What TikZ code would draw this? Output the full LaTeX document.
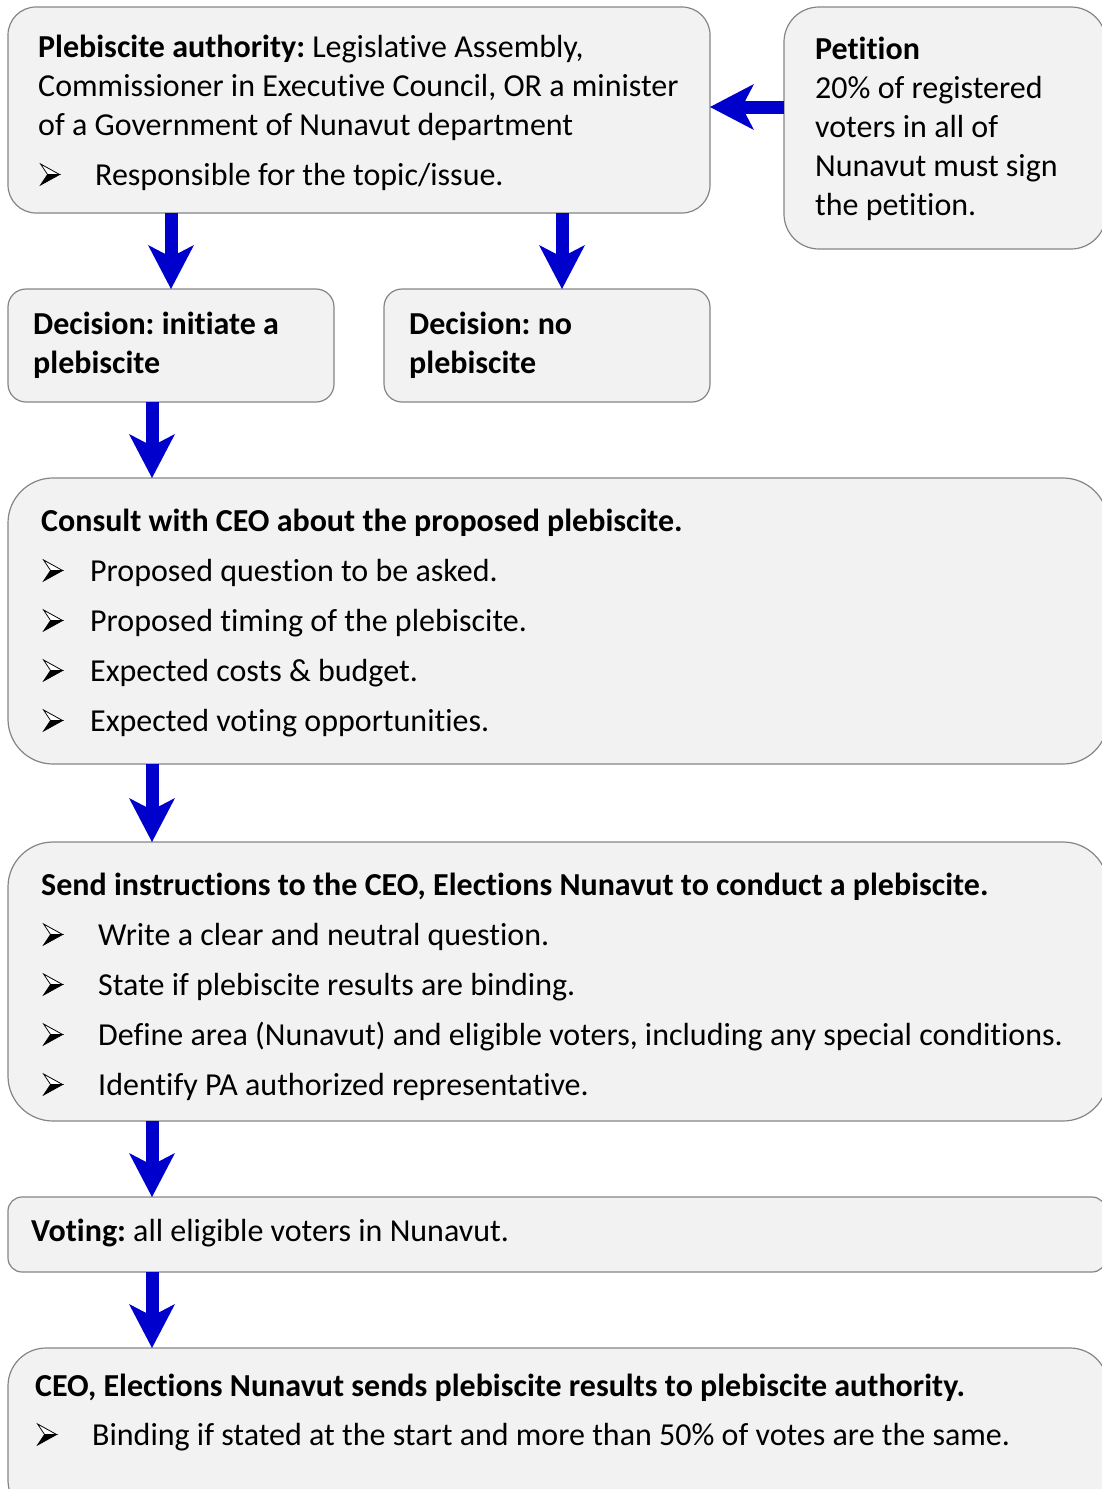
\documentclass[tikz,border=0pt]{standalone}
\usepackage{fontspec}
\setmainfont[Ligatures=NoCommon]{Carlito}
\frenchspacing
\usetikzlibrary{arrows.meta,positioning}
\definecolor{boxfill}{HTML}{F2F2F2}
\definecolor{boxline}{HTML}{858585}
\definecolor{flowblue}{HTML}{0000CC}
% arrowhead bullet, #1 = room from bullet to text
\newcommand{\bul}[1]{\makebox[#1][l]{\hspace{2pt}\tikz[baseline=0pt,x=1pt,y=1pt,line width=0.8pt,line join=miter]{\filldraw[fill=white,draw=black] (0,21)--(19,10.5)--(7,10.5)--cycle; \filldraw[black] (7,10.5)--(19,10.5)--(0,0)--cycle;}}}
\tikzset{
  box/.style={rounded corners=#1,draw=boxline,fill=boxfill,line width=1.2pt,inner sep=0pt,outer sep=0pt,anchor=north west},
  box/.default=20pt,
  body/.style={font=\fontsize{32}{39}\selectfont,align=left,inner sep=0pt,anchor=base west},
  flow/.style={-{Stealth[length=44pt,width=46pt,inset=12pt,line width=0pt]},draw=flowblue,line width=13pt}
}
\begin{document}
\begin{tikzpicture}[x=1pt,y=-1pt]
\useasboundingbox (0,0) rectangle (1102,1489);
\clip (0,0) rectangle (1102,1489);
% boxes
\node[box=28pt,minimum width=702pt,minimum height=206pt] (auth) at (8,7) {};
\node[box=35pt,minimum width=322pt,minimum height=242pt] (pet) at (784,7) {};
\node[box=18pt,minimum width=326pt,minimum height=113pt] (init) at (8,289) {};
\node[box=18pt,minimum width=326pt,minimum height=113pt] (no) at (384,289) {};
\node[box=45pt,minimum width=1100pt,minimum height=286pt] (cons) at (8,478) {};
\node[box=45pt,minimum width=1100pt,minimum height=279pt] (send) at (8,842) {};
\node[box=14pt,minimum width=1098pt,minimum height=75pt] (vote) at (8,1197) {};
\node[box=38pt,minimum width=1100pt,minimum height=170pt] (ceo) at (8,1348) {};
% texts (placed at the baseline of their last line)
\node[body] (authtxt) at (38,185) {\textbf{Plebiscite authority:} Legislative Assembly,\\Commissioner in Executive Council, OR a minister\\of a Government of Nunavut department\\[11pt]\bul{57pt}Responsible for the topic/issue.};
\node[body] (pettxt) at (815,215) {\textbf{Petition}\\20\% of registered\\voters in all of\\Nunavut must sign\\the petition.};
\node[body] (inittxt) at (33,373) {\textbf{Decision: initiate a}\\\textbf{plebiscite}};
\node[body] (notxt) at (409,373) {\textbf{Decision: no}\\\textbf{plebiscite}};
\node[body] (constxt) at (41,731) {\textbf{Consult with CEO about the proposed plebiscite.}\\[11pt]\bul{49pt}Proposed question to be asked.\\[11pt]\bul{49pt}Proposed timing of the plebiscite.\\[11pt]\bul{49pt}Expected costs \& budget.\\[11pt]\bul{49pt}Expected voting opportunities.};
\node[body] (sendtxt) at (41,1095) {\textbf{Send instructions to the CEO, Elections Nunavut to conduct a plebiscite.}\\[11pt]\bul{57pt}Write a clear and neutral question.\\[11pt]\bul{57pt}State if plebiscite results are binding.\\[11pt]\bul{57pt}Define area (Nunavut) and eligible voters, including any special conditions.\\[11pt]\bul{57pt}Identify PA authorized representative.};
\node[body] (votetxt) at (31,1241) {\textbf{Voting:} all eligible voters in Nunavut.};
\node[body] (ceotxt) at (35,1445) {\textbf{CEO, Elections Nunavut sends plebiscite results to plebiscite authority.}\\[10pt]\bul{57pt}Binding if stated at the start and more than 50\% of votes are the same.};
% connectors
\coordinate (noin) at ([xshift=15pt]no.north);
\coordinate (spine) at (152,0);
\coordinate (petout) at (pet.west |- 0,107);
\draw[flow] (petout) -- (petout -| auth.east);
\draw[flow] (auth.south -| init.north) -- (init.north);
\draw[flow] (auth.south -| noin) -- (noin);
\draw[flow] (init.south -| spine) -- (cons.north -| spine);
\draw[flow] (cons.south -| spine) -- (send.north -| spine);
\draw[flow] (send.south -| spine) -- (vote.north -| spine);
\draw[flow] (vote.south -| spine) -- (ceo.north -| spine);
\end{tikzpicture}
\end{document}
